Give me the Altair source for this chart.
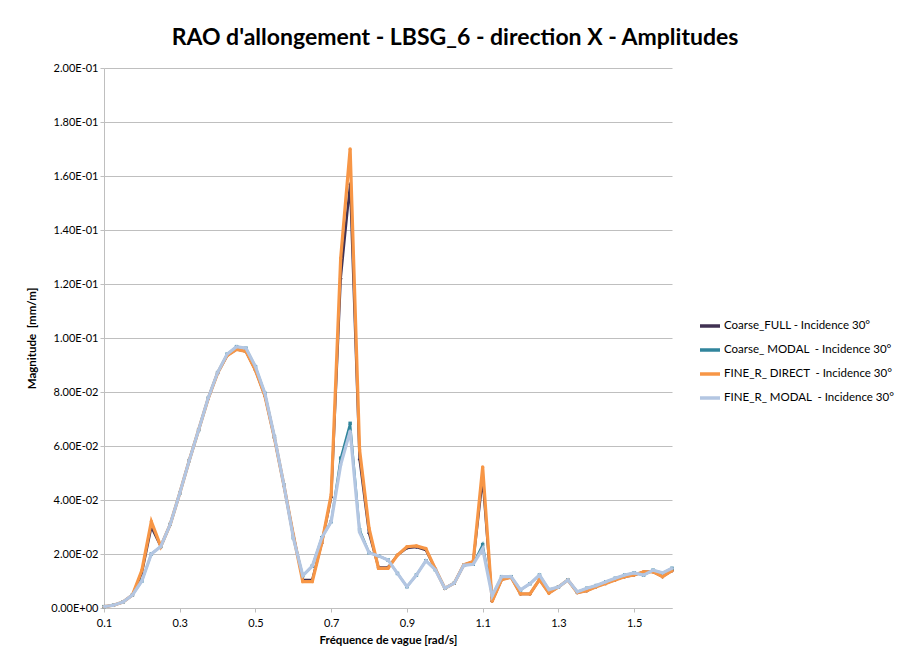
import altair as alt
import pandas as pd

freq = [0.1, 0.125, 0.15, 0.175, 0.2, 0.225, 0.25, 0.275, 0.3, 0.325,
        0.35, 0.375, 0.4, 0.425, 0.45, 0.475, 0.5, 0.525, 0.55, 0.575,
        0.6, 0.625, 0.65, 0.675, 0.7, 0.725, 0.75, 0.775, 0.8, 0.825,
        0.85, 0.875, 0.9, 0.925, 0.95, 0.975, 1.0, 1.025, 1.05, 1.075,
        1.1, 1.125, 1.15, 1.175, 1.2, 1.225, 1.25, 1.275, 1.3, 1.325,
        1.35, 1.375, 1.4, 1.425, 1.45, 1.475, 1.5, 1.525, 1.55, 1.575, 1.6]

coarse_full = [0.0005, 0.001, 0.0022, 0.0048, 0.013, 0.030, 0.0228, 0.031, 0.0425, 0.0546,
               0.066, 0.0775, 0.087, 0.0935, 0.0958, 0.095, 0.088, 0.0785, 0.063, 0.0455,
               0.027, 0.0105, 0.0104, 0.024, 0.041, 0.122, 0.157, 0.055, 0.0277, 0.0150,
               0.0150, 0.0196, 0.0222, 0.0226, 0.0215, 0.0145, 0.0073, 0.0092, 0.016, 0.0172,
               0.048, 0.0025, 0.0105, 0.0114, 0.0052, 0.0052, 0.0105, 0.0055, 0.0078, 0.0104,
               0.0057, 0.0064, 0.0079, 0.0091, 0.0104, 0.0116, 0.0122, 0.0134, 0.0134, 0.0116, 0.0138]

coarse_modal = [0.0005, 0.001, 0.0022, 0.0048, 0.010, 0.020, 0.0228, 0.031, 0.0425, 0.0546,
                0.066, 0.0777, 0.0872, 0.094, 0.0968, 0.0962, 0.0894, 0.0795, 0.0635, 0.0456,
                0.026, 0.012, 0.0155, 0.026, 0.032, 0.0555, 0.0684, 0.029, 0.0205, 0.0193,
                0.0178, 0.0128, 0.0079, 0.0122, 0.0175, 0.0142, 0.0073, 0.0092, 0.0158, 0.0162,
                0.0235, 0.0045, 0.0116, 0.0116, 0.0067, 0.009, 0.0122, 0.0068, 0.0078, 0.0104,
                0.006, 0.0073, 0.0083, 0.0097, 0.011, 0.0122, 0.013, 0.0122, 0.014, 0.013, 0.0147]

fine_direct = [0.0005, 0.001, 0.0022, 0.0048, 0.014, 0.032, 0.0228, 0.031, 0.0425, 0.0546,
               0.066, 0.0775, 0.087, 0.0935, 0.0958, 0.095, 0.088, 0.0785, 0.063, 0.0455,
               0.027, 0.0098, 0.0098, 0.024, 0.042, 0.1295, 0.170, 0.0585, 0.0295, 0.0147,
               0.0147, 0.0196, 0.0227, 0.023, 0.022, 0.0145, 0.0073, 0.0092, 0.016, 0.0172,
               0.0522, 0.0025, 0.0105, 0.0114, 0.0052, 0.0052, 0.0105, 0.0055, 0.0078, 0.0104,
               0.0057, 0.0064, 0.0079, 0.0091, 0.0104, 0.0116, 0.0122, 0.0134, 0.0134, 0.0116, 0.0138]

fine_modal = [0.0005, 0.001, 0.0022, 0.0048, 0.010, 0.020, 0.0228, 0.031, 0.0425, 0.0546,
              0.066, 0.0777, 0.0872, 0.094, 0.0968, 0.0962, 0.0894, 0.0795, 0.0635, 0.0456,
              0.026, 0.012, 0.0155, 0.026, 0.032, 0.053, 0.0655, 0.028, 0.0205, 0.0193,
              0.0178, 0.0128, 0.0079, 0.0122, 0.0175, 0.0142, 0.0073, 0.0092, 0.0158, 0.0162,
              0.022, 0.0045, 0.0116, 0.0116, 0.0067, 0.009, 0.0122, 0.0068, 0.0078, 0.0104,
              0.006, 0.0073, 0.0083, 0.0097, 0.011, 0.0122, 0.013, 0.0122, 0.014, 0.013, 0.0147]

NB = "\u00a0"
series_names = ["Coarse_FULL - Incidence 30°",
                "Coarse_ MODAL" + NB + " - Incidence 30°",
                "FINE_R_ DIRECT" + NB + " - Incidence 30°",
                "FINE_R_ MODAL" + NB + " - Incidence 30°"]
series_values = [coarse_full, coarse_modal, fine_direct, fine_modal]
series_colors = ["#403152", "#31859C", "#F79646", "#B3C6E2"]
series_widths = [2.5, 2.2, 3.2, 3.2]
series_shapes = ["cross", "square", "circle", "cross"]

x_ticks = [0.1, 0.3, 0.5, 0.7, 0.9, 1.1, 1.3, 1.5]
y_ticks = [0.0, 0.02, 0.04, 0.06, 0.08, 0.1, 0.12, 0.14, 0.16, 0.18, 0.2]
y_labels = ["0.00E+00", "2.00E-02", "4.00E-02", "6.00E-02", "8.00E-02", "1.00E-01",
            "1.20E-01", "1.40E-01", "1.60E-01", "1.80E-01", "2.00E-01"]

rows = []
for name, vals in zip(series_names, series_values):
    for f, v in zip(freq, vals):
        rows.append({"freq": f, "mag": v, "series": name})
df = pd.DataFrame(rows)

FONT = "Lato"
label_array = "[" + ",".join("'" + s + "'" for s in y_labels) + "]"

x_enc = alt.X("freq:Q",
              scale=alt.Scale(domain=[0.1, 1.6], nice=False, zero=False),
              axis=alt.Axis(values=x_ticks, format=".1f", title="Fréquence de vague [rad/s]",
                            grid=False, domainColor="#BFBFBF", tickColor="#BFBFBF", tickSize=4,
                            labelFlush=False,
                            labelFont=FONT, labelFontSize=11, labelColor="#000000", labelPadding=5,
                            titleFont=FONT, titleFontSize=11.5, titleFontWeight="bold",
                            titleColor="#000000", titlePadding=6))
y_enc = alt.Y("mag:Q",
              scale=alt.Scale(domain=[0, 0.2], nice=False),
              axis=alt.Axis(values=y_ticks,
                            labelExpr=label_array + "[round(datum.value/0.02)]",
                            labelFlush=False,
                            title="Magnitude" + NB + " [mm/m]",
                            grid=True, gridColor="#BFBFBF", gridWidth=1,
                            domainColor="#BFBFBF", tickColor="#BFBFBF", tickSize=4,
                            labelFont=FONT, labelFontSize=11, labelColor="#000000",
                            titleFont=FONT, titleFontSize=11.5, titleFontWeight="bold",
                            titleColor="#000000", titlePadding=13))
color_enc = alt.Color("series:N",
                      scale=alt.Scale(domain=series_names, range=series_colors),
                      legend=alt.Legend(title=None, orient="none", legendX=594, legendY=246,
                                        symbolType="stroke", symbolStrokeWidth=3.5,
                                        symbolSize=400, rowPadding=5,
                                        labelFont=FONT, labelFontSize=11.5, labelColor="#000000",
                                        labelLimit=300, labelOffset=2))

layers = []
for name, w, shp in zip(series_names, series_widths, series_shapes):
    base = alt.Chart(df).transform_filter(alt.datum.series == name)
    layers.append(base.mark_line(strokeWidth=w).encode(x=x_enc, y=y_enc, color=color_enc))
    layers.append(base.mark_point(shape=shp, filled=True, size=12, opacity=1).encode(
        x=x_enc, y=y_enc, color=alt.Color("series:N",
                                          scale=alt.Scale(domain=series_names, range=series_colors),
                                          legend=None)))

chart = alt.layer(*layers).properties(
    width=568, height=540,
    autosize=alt.AutoSizeParams(type="none"),
    padding={"left": 96, "top": 60, "right": 224, "bottom": 48},
    title=alt.TitleParams("RAO d'allongement - LBSG_6 - direction X - Amplitudes",
                          font=FONT, fontSize=23, fontWeight="bold", color="#000000",
                          anchor="middle", dx=67, offset=12),
    background="white",
).configure_view(stroke=None)

chart.save("out.html", embed_options={"renderer": "svg", "actions": False})
